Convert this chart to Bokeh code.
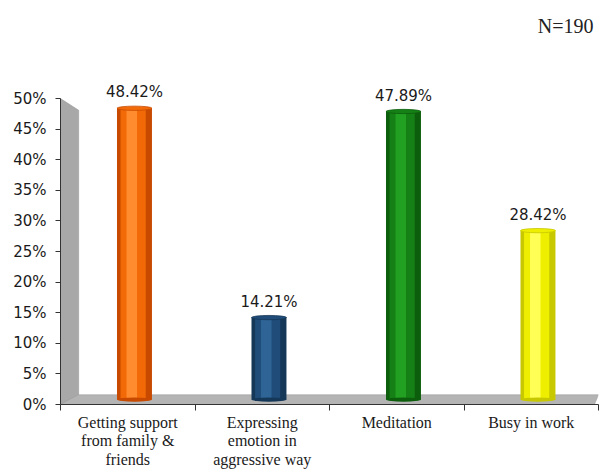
from bokeh.plotting import figure
from bokeh.models import FixedTicker, PrintfTickFormatter, Range1d
from bokeh.core.properties import value
from bokeh.embed import file_html
from bokeh.resources import INLINE

categories = ["Getting support\nfrom family &\nfriends", "Expressing\nemotion in\naggressive way", "Meditation", "Busy in work"]
values = [48.42, 14.21, 47.89, 28.42]
labels = ["48.42%", "14.21%", "47.89%", "28.42%"]
y_ticks = [0, 5, 10, 15, 20, 25, 30, 35, 40, 45, 50]
note = "N=190"

dark = ["#c84a00", "#163858", "#0c5e0c", "#c8c800"]
mid = ["#f26a08", "#1f4c78", "#158015", "#eeee00"]
light = ["#ff8c2e", "#2f6496", "#22a022", "#ffff55"]

p = figure(width=601, height=470, output_backend="svg", toolbar_location=None,
           x_range=Range1d(0, 4), y_range=Range1d(0, 64.4),
           min_border_left=60, min_border_right=3, min_border_bottom=66, min_border_top=10)
p.outline_line_color = None
p.grid.visible = False
p.background_fill_color = "white"
p.border_fill_color = "white"

p.text(x=[4], y=[61.9], text=[note], text_align="right", text_baseline="middle", x_offset=-5,
       text_font=value("Liberation Serif"), text_font_size="20px", text_color="#222222")

# 3D walls (decor)
dx = 0.135
dy = 1.6
p.patch([0, dx, dx, 0], [50, 48.1, dy, 0], fill_color="#a8a8a8", line_color="#909090", line_width=0.5)
p.patch([0, dx, 4, 3.97], [0, dy, dy, 0], fill_color="#b4b4b4", line_color="#9a9a9a", line_width=0.5)

xs = [i + 0.55 for i in range(len(values))]
w = 0.26
base = 0.8
cap = 0.7
tops = [v for v in values]
p.vbar(x=xs, top=tops, bottom=base, width=w, fill_color=dark, line_color=None)
p.vbar(x=[x - 0.01 for x in xs], top=tops, bottom=base, width=w * 0.72, fill_color=mid, line_color=None)
p.vbar(x=[x - 0.02 for x in xs], top=tops, bottom=base, width=w * 0.3, fill_color=light, line_color=None)
p.ellipse(x=xs, y=base, width=w, height=cap, fill_color=dark, line_color=None)
p.ellipse(x=xs, y=tops, width=w, height=cap, fill_color=mid, line_color=dark, line_width=0.8)

p.text(x=xs, y=tops, text=labels, text_align="center", text_baseline="bottom", y_offset=-7,
       text_font=value("DejaVu Sans"), text_font_size="15px", text_color="#1a1a1a")

yax = p.yaxis[0]
yax.ticker = FixedTicker(ticks=y_ticks)
yax.formatter = PrintfTickFormatter(format="%d%%")
yax.bounds = (0, 50)
yax.major_tick_in = 0
yax.major_tick_out = 5
yax.minor_tick_line_color = None
yax.major_label_text_font = "DejaVu Sans"
yax.major_label_text_font_size = "15px"
yax.major_label_text_color = "#1a1a1a"
yax.major_label_standoff = 9
yax.axis_line_color = "#333333"
yax.major_tick_line_color = "#333333"

xax = p.xaxis[0]
xax.ticker = FixedTicker(ticks=[0.5, 1.5, 2.5, 3.5], minor_ticks=[0, 1, 2, 3, 4])
xax.major_label_overrides = {i + 0.5: c for i, c in enumerate(categories)}
xax.major_tick_line_color = None
xax.minor_tick_in = 0
xax.minor_tick_out = 6
xax.minor_tick_line_color = "#333333"
xax.axis_line_color = "#333333"
xax.major_label_text_font = "Liberation Serif"
xax.major_label_text_font_size = "16px"
xax.major_label_text_line_height = 1.1
xax.major_label_text_color = "#1a1a1a"
xax.major_label_standoff = 3

open("out.html", "w").write(file_html(p, INLINE))
